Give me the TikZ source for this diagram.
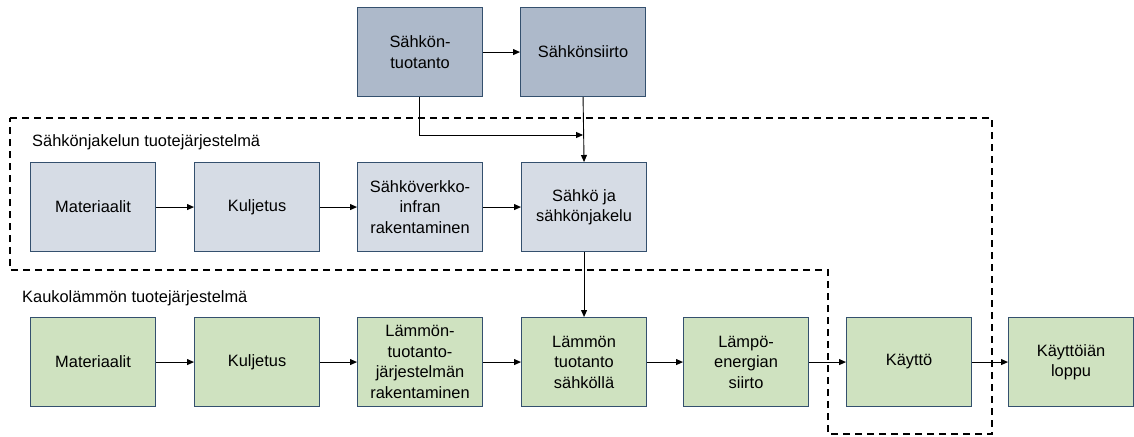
\documentclass[tikz,border=0pt]{standalone}
\usepackage{fontspec}
\setmainfont{Liberation Sans}
\usetikzlibrary{arrows.meta}
\definecolor{topfill}{HTML}{ADB9CA}
\definecolor{midfill}{HTML}{D6DCE5}
\definecolor{lowfill}{HTML}{CFE2C0}
\definecolor{boxline}{HTML}{34506E}
\begin{document}
\begin{tikzpicture}[x=1pt,y=-1pt,
  box/.style={draw=boxline, line width=1.1pt, minimum width=125pt, minimum height=89pt,
    anchor=north west, align=center, inner sep=2pt,
    font=\fontsize{16.4}{20.5}\selectfont},
  topbox/.style={box, fill=topfill},
  midbox/.style={box, fill=midfill},
  lowbox/.style={box, fill=lowfill},
  flow/.style={line width=0.9pt, -{Triangle[length=7pt,width=6pt]}},
  frame/.style={line width=1.4pt, dash pattern=on 7pt off 5pt},
  grouplabel/.style={anchor=west, inner sep=0pt, font=\fontsize{16.4}{19}\selectfont}]
\useasboundingbox (0,0) rectangle (1134,436);

% system boundary of the electricity distribution product system
\draw[frame] (10,118) -- (992,118) -- (992,434) -- (828,434) -- (828,270) -- (10,270) -- cycle;

% electricity production and transmission
\node[topbox] (prod) at (357,7) {Sähkön-\\tuotanto};
\node[topbox] (trans) at (520,7) {Sähkönsiirto};

% electricity distribution product system
\node[grouplabel] (lblA) at (32,142) {Sähkönjakelun tuotejärjestelmä};
\node[midbox] (matA) at (30,162) {Materiaalit};
\node[midbox] (kulA) at (194,162) {Kuljetus};
\node[midbox] (infra) at (357,162) {Sähköverkko-\\infran\\rakentaminen};
\node[midbox] (jak) at (521,162) {Sähkö ja\\sähkönjakelu};

% district heating product system
\node[grouplabel] (lblB) at (22,298) {Kaukolämmön tuotejärjestelmä};
\node[lowbox] (matB) at (30,317) {Materiaalit};
\node[lowbox] (kulB) at (194,317) {Kuljetus};
\node[lowbox] (lsys) at (357,317) {Lämmön-\\tuotanto-\\järjestelmän\\rakentaminen};
\node[lowbox] (lsah) at (521,317) {Lämmön\\tuotanto\\sähköllä};
\node[lowbox] (lsiir) at (683,317) {Lämpö-\\energian\\siirto};
\node[lowbox] (kaytto) at (846,317) {Käyttö};
\node[lowbox] (loppu) at (1008,317) {Käyttöiän\\loppu};

% connectors
\draw[flow] (prod) -- (trans);
\coordinate (join) at (trans.south |- 0,135);
\draw[flow] (prod.south -| 419,0) |- (join);
\draw[flow] (trans.south) -- (jak.north);
\draw[flow] (jak.south) -- (lsah.north);

\draw[flow] (matA) -- (kulA);
\draw[flow] (kulA) -- (infra);
\draw[flow] (infra) -- (jak);

\draw[flow] (matB) -- (kulB);
\draw[flow] (kulB) -- (lsys);
\draw[flow] (lsys) -- (lsah);
\draw[flow] (lsah) -- (lsiir);
\draw[flow] (lsiir) -- (kaytto);
\draw[flow] (kaytto) -- (loppu);
\end{tikzpicture}
\end{document}
